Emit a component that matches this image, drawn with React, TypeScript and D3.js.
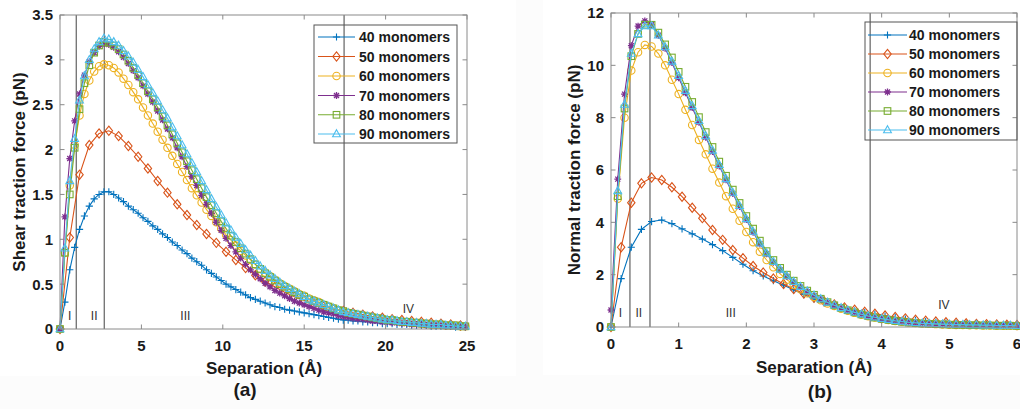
import React from 'react';
import * as d3 from 'd3';

// ---------- series meta ----------
const seriesNames = ['40 monomers', '50 monomers', '60 monomers', '70 monomers', '80 monomers', '90 monomers'];
const seriesColors = ['#0072BD', '#D95319', '#EDB120', '#7E2F8E', '#77AC30', '#4DBEEE'];
const seriesMarkers = ['plus', 'diamond', 'circle', 'star', 'square', 'triangle'];

// ---------- (a) shear traction force ----------
const shearGrid03 = [0, 0.3, 0.6, 0.9, 1.2, 1.5, 1.8, 2.1, 2.4, 2.7, 3, 3.3, 3.6, 3.9, 4.2, 4.5, 4.8, 5.1, 5.4, 5.7, 6, 6.3, 6.6, 6.9, 7.2, 7.5, 7.8, 8.1, 8.4, 8.7, 9, 9.3, 9.6, 9.9, 10.2, 10.5, 10.8, 11.1, 11.4, 11.7, 12, 12.3, 12.6, 12.9, 13.2, 13.5, 13.8, 14.1, 14.4, 14.7, 15, 15.3, 15.6, 15.9, 16.2, 16.5, 16.8, 17.1, 17.4, 17.7, 18, 18.3, 18.6, 18.9, 19.2, 19.5, 19.8, 20.1, 20.4, 20.7, 21, 21.3, 21.6, 21.9, 22.2, 22.5, 22.8, 23.1, 23.4, 23.7, 24, 24.3, 24.6, 24.9];
const shearGrid06 = [0, 0.6, 1.2, 1.8, 2.4, 3, 3.6, 4.2, 4.8, 5.4, 6, 6.6, 7.2, 7.8, 8.4, 9, 9.6, 10.2, 10.8, 11.4, 12, 12.6, 13.2, 13.8, 14.4, 15, 15.6, 16.2, 16.8, 17.4, 18, 18.6, 19.2, 19.8, 20.4, 21, 21.6, 22.2, 22.8, 23.4, 24, 24.6];

const shear40 = [
  0, 0.30, 0.66, 0.91, 1.11, 1.26, 1.37, 1.45, 1.50, 1.53,
  1.53, 1.50, 1.46, 1.42, 1.37, 1.33, 1.29, 1.24, 1.20, 1.15,
  1.11, 1.06, 1.02, 0.97, 0.93, 0.88, 0.84, 0.79, 0.75, 0.71,
  0.66, 0.62, 0.58, 0.54, 0.50, 0.47, 0.44, 0.41, 0.38, 0.35,
  0.33, 0.31, 0.29, 0.27, 0.25, 0.24, 0.22, 0.21, 0.20, 0.19,
  0.18, 0.17, 0.16, 0.15, 0.14, 0.13, 0.12, 0.11, 0.10, 0.10,
  0.09, 0.09, 0.08, 0.08, 0.07, 0.07, 0.06, 0.06, 0.06, 0.05,
  0.05, 0.05, 0.04, 0.04, 0.04, 0.04, 0.03, 0.03, 0.03, 0.03,
  0.03, 0.02, 0.02, 0.02];
const shear50 = [
  0, 1.02, 1.72, 2.05, 2.18, 2.21, 2.15, 2.04, 1.92, 1.79,
  1.65, 1.52, 1.39, 1.27, 1.16, 1.06, 0.96, 0.86, 0.77, 0.68,
  0.60, 0.53, 0.47, 0.41, 0.36, 0.32, 0.28, 0.25, 0.22, 0.20,
  0.18, 0.16, 0.14, 0.125, 0.11, 0.10, 0.09, 0.08, 0.07, 0.06,
  0.05, 0.04];
const shear60 = [
  0, 0.85, 1.60, 2.05, 2.38, 2.62, 2.77, 2.87, 2.93, 2.95,
  2.94, 2.91, 2.86, 2.79, 2.72, 2.64, 2.56, 2.47, 2.38, 2.29,
  2.20, 2.11, 2.02, 1.93, 1.84, 1.75, 1.66, 1.57, 1.49, 1.41,
  1.33, 1.26, 1.19, 1.12, 1.05, 0.99, 0.93, 0.87, 0.82, 0.77,
  0.72, 0.67, 0.63, 0.59, 0.55, 0.51, 0.48, 0.45, 0.42, 0.39,
  0.37, 0.34, 0.32, 0.30, 0.27, 0.25, 0.23, 0.21, 0.19, 0.18,
  0.17, 0.16, 0.15, 0.14, 0.13, 0.12, 0.11, 0.10, 0.10, 0.09,
  0.08, 0.08, 0.07, 0.07, 0.06, 0.06, 0.05, 0.05, 0.05, 0.04,
  0.04, 0.04, 0.03, 0.03];
const shear70 = [
  0, 1.25, 1.90, 2.32, 2.62, 2.83, 2.98, 3.08, 3.15, 3.18,
  3.17, 3.14, 3.09, 3.03, 2.96, 2.88, 2.80, 2.71, 2.62, 2.53,
  2.43, 2.33, 2.23, 2.13, 2.02, 1.92, 1.81, 1.70, 1.60, 1.49,
  1.39, 1.29, 1.19, 1.10, 1.01, 0.93, 0.86, 0.79, 0.72, 0.66,
  0.61, 0.56, 0.51, 0.47, 0.43, 0.40, 0.37, 0.34, 0.31, 0.29,
  0.27, 0.25, 0.23, 0.21, 0.19, 0.18, 0.17, 0.15, 0.14, 0.13,
  0.12, 0.11, 0.11, 0.10, 0.09, 0.09, 0.08, 0.08, 0.07, 0.07,
  0.06, 0.06, 0.05, 0.05, 0.05, 0.04, 0.04, 0.04, 0.04, 0.03,
  0.03, 0.03, 0.03, 0.02];
const shear80 = [
  0, 0.85, 1.50, 2.02, 2.45, 2.74, 2.94, 3.08, 3.16, 3.20,
  3.19, 3.16, 3.12, 3.06, 2.99, 2.91, 2.83, 2.74, 2.65, 2.56,
  2.47, 2.37, 2.27, 2.17, 2.07, 1.97, 1.87, 1.77, 1.67, 1.57,
  1.47, 1.38, 1.29, 1.20, 1.12, 1.04, 0.97, 0.90, 0.84, 0.78,
  0.72, 0.67, 0.62, 0.58, 0.54, 0.50, 0.47, 0.44, 0.41, 0.38,
  0.36, 0.33, 0.31, 0.29, 0.27, 0.25, 0.23, 0.21, 0.20, 0.18,
  0.17, 0.16, 0.15, 0.14, 0.13, 0.12, 0.11, 0.10, 0.10, 0.09,
  0.08, 0.08, 0.07, 0.07, 0.06, 0.06, 0.05, 0.05, 0.05, 0.04,
  0.04, 0.04, 0.03, 0.03];
const shear90 = [
  0, 0.90, 1.65, 2.12, 2.55, 2.82, 3.00, 3.12, 3.20, 3.24,
  3.23, 3.20, 3.16, 3.10, 3.04, 2.97, 2.89, 2.81, 2.72, 2.63,
  2.54, 2.44, 2.35, 2.25, 2.15, 2.05, 1.95, 1.85, 1.75, 1.65,
  1.55, 1.45, 1.36, 1.27, 1.18, 1.10, 1.02, 0.95, 0.88, 0.82,
  0.76, 0.70, 0.65, 0.60, 0.56, 0.52, 0.48, 0.45, 0.42, 0.39,
  0.36, 0.33, 0.31, 0.29, 0.27, 0.25, 0.23, 0.21, 0.19, 0.18,
  0.17, 0.16, 0.15, 0.14, 0.13, 0.12, 0.11, 0.10, 0.10, 0.09,
  0.08, 0.08, 0.07, 0.07, 0.06, 0.06, 0.05, 0.05, 0.05, 0.04,
  0.04, 0.03, 0.03, 0.03];

const shearXTicks = [0, 5, 10, 15, 20, 25];
const shearYTicks = [0, 0.5, 1, 1.5, 2, 2.5, 3, 3.5];
const shearRegionBounds = [1.0, 2.72, 17.45];
const shearRegionLabelX = [0.6, 2.1, 7.7, 21.4];
const shearRegionLabelY = [0.1, 0.1, 0.1, 0.18];

// ---------- (b) normal traction force ----------
const normalGrid015 = [0, 0.15, 0.3, 0.45, 0.6, 0.75, 0.9, 1.05, 1.2, 1.35, 1.5, 1.65, 1.8, 1.95, 2.1, 2.25, 2.4, 2.55, 2.7, 2.85, 3, 3.15, 3.3, 3.45, 3.6, 3.75, 3.9, 4.05, 4.2, 4.35, 4.5, 4.65, 4.8, 4.95, 5.1, 5.25, 5.4, 5.55, 5.7, 5.85, 6];
const normalGrid01 = [0, 0.1, 0.2, 0.3, 0.4, 0.5, 0.6, 0.7, 0.8, 0.9, 1, 1.1, 1.2, 1.3, 1.4, 1.5, 1.6, 1.7, 1.8, 1.9, 2, 2.1, 2.2, 2.3, 2.4, 2.5, 2.6, 2.7, 2.8, 2.9, 3, 3.1, 3.2, 3.3, 3.4, 3.5, 3.6, 3.7, 3.8, 3.9, 4, 4.1, 4.2, 4.3, 4.4, 4.5, 4.6, 4.7, 4.8, 4.9, 5, 5.1, 5.2, 5.3, 5.4, 5.5, 5.6, 5.7, 5.8, 5.9, 6];

const normal40 = [
  0, 1.85, 3.05, 3.73, 4.03, 4.09, 3.95, 3.75, 3.56, 3.36,
  3.15, 2.92, 2.66, 2.40, 2.15, 1.95, 1.77, 1.60, 1.42, 1.24,
  1.07, 0.92, 0.80, 0.70, 0.62, 0.55, 0.48, 0.42, 0.36, 0.30,
  0.25, 0.21, 0.18, 0.15, 0.13, 0.12, 0.11, 0.10, 0.09, 0.08,
  0.08];
const normal50 = [
  0, 3.05, 4.75, 5.49, 5.71, 5.62, 5.34, 4.98, 4.56, 4.16,
  3.71, 3.33, 2.94, 2.63, 2.33, 2.08, 1.85, 1.64, 1.45, 1.28,
  1.12, 0.98, 0.86, 0.75, 0.66, 0.58, 0.51, 0.44, 0.38, 0.33,
  0.28, 0.24, 0.21, 0.18, 0.16, 0.14, 0.12, 0.11, 0.10, 0.09,
  0.08];
const normal60 = [
  0, 4.9, 8.0, 9.8, 10.5, 10.78, 10.72, 10.45, 10.0, 9.45,
  8.9, 8.3, 7.72, 7.15, 6.6, 6.05, 5.52, 5.0, 4.52, 4.06,
  3.63, 3.24, 2.88, 2.56, 2.28, 2.03, 1.81, 1.61, 1.44, 1.29,
  1.15, 1.02, 0.90, 0.80, 0.70, 0.62, 0.54, 0.47, 0.41, 0.36,
  0.31, 0.27, 0.23, 0.20, 0.17, 0.15, 0.13, 0.12, 0.11, 0.10,
  0.09, 0.08, 0.08, 0.07, 0.07, 0.06, 0.06, 0.05, 0.05, 0.05,
  0.04];
const normal70 = [
  0.65, 5.65, 8.9, 10.75, 11.5, 11.7, 11.55, 11.15, 10.65, 10.1,
  9.52, 8.95, 8.38, 7.82, 7.25, 6.7, 6.15, 5.62, 5.1, 4.6,
  4.1, 3.62, 3.18, 2.8, 2.47, 2.18, 1.93, 1.71, 1.52, 1.35,
  1.2, 1.06, 0.93, 0.82, 0.72, 0.63, 0.55, 0.48, 0.42, 0.36,
  0.31, 0.27, 0.24, 0.21, 0.18, 0.16, 0.14, 0.13, 0.12, 0.11,
  0.10, 0.09, 0.09, 0.08, 0.08, 0.07, 0.07, 0.06, 0.06, 0.06,
  0.05];
const normal80 = [
  0, 5.0, 8.35, 10.35, 11.2, 11.55, 11.55, 11.25, 10.8, 10.3,
  9.75, 9.18, 8.6, 8.02, 7.45, 6.88, 6.32, 5.78, 5.25, 4.74,
  4.24, 3.76, 3.3, 2.9, 2.56, 2.26, 2.0, 1.77, 1.57, 1.39,
  1.23, 1.08, 0.95, 0.83, 0.73, 0.64, 0.56, 0.48, 0.42, 0.36,
  0.31, 0.27, 0.23, 0.20, 0.17, 0.15, 0.13, 0.12, 0.11, 0.10,
  0.09, 0.08, 0.08, 0.07, 0.07, 0.06, 0.06, 0.05, 0.05, 0.05,
  0.04];
const normal90 = [
  0, 5.2, 8.5, 10.45, 11.2, 11.5, 11.5, 11.15, 10.7, 10.15,
  9.6, 9.03, 8.45, 7.88, 7.3, 6.75, 6.2, 5.66, 5.14, 4.63,
  4.13, 3.65, 3.2, 2.82, 2.49, 2.2, 1.95, 1.73, 1.54, 1.37,
  1.21, 1.07, 0.94, 0.83, 0.73, 0.64, 0.56, 0.49, 0.42, 0.37,
  0.32, 0.28, 0.24, 0.21, 0.18, 0.16, 0.14, 0.13, 0.12, 0.11,
  0.10, 0.09, 0.09, 0.08, 0.08, 0.07, 0.07, 0.06, 0.06, 0.06,
  0.05];

const normalXTicks = [0, 1, 2, 3, 4, 5, 6];
const normalYTicks = [0, 2, 4, 6, 8, 10, 12];
const normalRegionBounds = [0.28, 0.576, 3.83];
const normalRegionLabelX = [0.14, 0.41, 1.77, 4.92];
const normalRegionLabelY = [0.38, 0.38, 0.38, 0.69];

const regionLabels = ['I', 'II', 'III', 'IV'];

const FONT = "'Liberation Sans', Arial, Helvetica, sans-serif";
const TXT = '#1a1a1a';

type MarkerType = string;

function Marker({ type, x, y, color }: { type: MarkerType; x: number; y: number; color: string }) {
  const common = { fill: 'none', stroke: color, strokeWidth: 1.1 };
  switch (type) {
    case 'plus':
      return <path d={`M${x - 3.6},${y}H${x + 3.6}M${x},${y - 3.6}V${y + 3.6}`} {...common} />;
    case 'diamond':
      return <path d={`M${x},${y - 4.6}L${x + 3.7},${y}L${x},${y + 4.6}L${x - 3.7},${y}Z`} {...common} />;
    case 'circle':
      return <circle cx={x} cy={y} r={3.7} {...common} />;
    case 'star':
      return (
        <path
          d={`M${x - 3.4},${y}H${x + 3.4}M${x},${y - 3.4}V${y + 3.4}M${x - 2.5},${y - 2.5}L${x + 2.5},${y + 2.5}M${x - 2.5},${y + 2.5}L${x + 2.5},${y - 2.5}`}
          {...common}
          strokeWidth={1.3}
        />
      );
    case 'square':
      return <rect x={x - 3.3} y={y - 3.3} width={6.6} height={6.6} {...common} />;
    case 'triangle':
      return <path d={`M${x},${y - 4.3}L${x + 3.9},${y + 2.7}L${x - 3.9},${y + 2.7}Z`} {...common} />;
    default:
      return null;
  }
}

type Series = { xs: number[]; ys: number[] };

type PanelProps = {
  left: number; right: number; top: number; bottom: number;
  xDomain: [number, number]; yDomain: [number, number];
  xTicks: number[]; yTicks: number[];
  series: Series[];
  bounds: number[];
  labelX: number[]; labelY: number[];
  yTitle: string; yTitleX: number; yTitleY: number;
  xTitleX: number; xTitleY: number;
  tagText: string; tagX: number; tagY: number;
  legendBox: [number, number, number, number];
  legendRowY: number[]; legendLine: [number, number]; legendTextX: number;
};

function Panel(p: PanelProps) {
  const x = d3.scaleLinear().domain(p.xDomain).range([p.left, p.right]);
  const y = d3.scaleLinear().domain(p.yDomain).range([p.bottom, p.top]);
  const line = d3.line<[number, number]>().x((d) => x(d[0])).y((d) => y(d[1]));
  const tickLen = 4.5;
  return (
    <g>
      {p.bounds.map((b, i) => (
        <line key={'b' + i} x1={x(b)} x2={x(b)} y1={p.top} y2={p.bottom} stroke="#6e6e6e" strokeWidth={1.3} />
      ))}
      {regionLabels.map((t, i) => (
        <text key={'r' + i} x={x(p.labelX[i])} y={y(p.labelY[i])} fontFamily={FONT} fontSize={12}
          textAnchor="middle" fill="#333">{t}</text>
      ))}
      {p.series.map((s, si) => {
        const n = Math.min(s.xs.length, s.ys.length);
        const pts: [number, number][] = [];
        for (let i = 0; i < n; i++) pts.push([s.xs[i], s.ys[i]]);
        return (
          <g key={'s' + si}>
            <path d={line(pts) || ''} fill="none" stroke={seriesColors[si]} strokeWidth={1.1} />
            {pts.map((d, i) => (
              <Marker key={i} type={seriesMarkers[si]} x={x(d[0])} y={y(d[1])} color={seriesColors[si]} />
            ))}
          </g>
        );
      })}
      <rect x={p.left} y={p.top} width={p.right - p.left} height={p.bottom - p.top} fill="none" stroke="#8a8a8a" strokeWidth={1} />
      {p.xTicks.map((t, i) => (
        <g key={'xt' + i}>
          <line x1={x(t)} x2={x(t)} y1={p.bottom} y2={p.bottom - tickLen} stroke="#8a8a8a" />
          <line x1={x(t)} x2={x(t)} y1={p.top} y2={p.top + tickLen} stroke="#8a8a8a" />
          <text x={x(t)} y={p.bottom + 22} fontFamily={FONT} fontSize={15} fontWeight="bold" textAnchor="middle" fill={TXT}>{String(t)}</text>
        </g>
      ))}
      {p.yTicks.map((t, i) => (
        <g key={'yt' + i}>
          <line x1={p.left} x2={p.left + tickLen} y1={y(t)} y2={y(t)} stroke="#8a8a8a" />
          <line x1={p.right} x2={p.right - tickLen} y1={y(t)} y2={y(t)} stroke="#8a8a8a" />
          <text x={p.left - 7} y={y(t)} dy="0.36em" fontFamily={FONT} fontSize={15} fontWeight="bold" textAnchor="end" fill={TXT}>{String(t)}</text>
        </g>
      ))}
      <text x={p.xTitleX} y={p.xTitleY} fontFamily={FONT} fontSize={17} fontWeight="bold" textAnchor="middle" fill={TXT}>Separation (Å)</text>
      <text transform={`translate(${p.yTitleX},${p.yTitleY}) rotate(-90)`} fontFamily={FONT} fontSize={17} fontWeight="bold" textAnchor="middle" fill={TXT}>{p.yTitle}</text>
      <text x={p.tagX} y={p.tagY} fontFamily={FONT} fontSize={19} fontWeight="bold" textAnchor="middle" fill={TXT}>{p.tagText}</text>
      <rect x={p.legendBox[0]} y={p.legendBox[1]} width={p.legendBox[2]} height={p.legendBox[3]} fill="none" stroke="#555" strokeWidth={1} />
      {seriesNames.map((name, i) => {
        const ly = p.legendRowY[i];
        const mx = (p.legendLine[0] + p.legendLine[1]) / 2;
        return (
          <g key={'l' + i}>
            <line x1={p.legendLine[0]} x2={p.legendLine[1]} y1={ly} y2={ly} stroke={seriesColors[i]} strokeWidth={1.1} />
            <Marker type={seriesMarkers[i]} x={mx} y={ly} color={seriesColors[i]} />
            <text x={p.legendTextX} y={ly} dy="0.36em" fontFamily={FONT} fontSize={14} fontWeight="bold" fill={TXT}>{name}</text>
          </g>
        );
      })}
    </g>
  );
}

export default function App() {
  const shearSeries: Series[] = [
    { xs: shearGrid03, ys: shear40 },
    { xs: shearGrid06, ys: shear50 },
    { xs: shearGrid03, ys: shear60 },
    { xs: shearGrid03, ys: shear70 },
    { xs: shearGrid03, ys: shear80 },
    { xs: shearGrid03, ys: shear90 },
  ];
  const normalSeries: Series[] = [
    { xs: normalGrid015, ys: normal40 },
    { xs: normalGrid015, ys: normal50 },
    { xs: normalGrid01, ys: normal60 },
    { xs: normalGrid01, ys: normal70 },
    { xs: normalGrid01, ys: normal80 },
    { xs: normalGrid01, ys: normal90 },
  ];
  return (
    <svg width={1020} height={409} style={{ position: 'absolute', left: 0, top: 0 }}>
      <rect x={0} y={0} width={1020} height={409} fill="#fcfcfc" />
      <rect x={0} y={0} width={516} height={376} fill="#ffffff" />
      <rect x={543} y={0} width={477} height={375} fill="#ffffff" />
      <Panel
        left={60} right={467} top={15} bottom={329}
        xDomain={[0, 25]} yDomain={[0, 3.5]}
        xTicks={shearXTicks} yTicks={shearYTicks}
        series={shearSeries}
        bounds={shearRegionBounds}
        labelX={shearRegionLabelX} labelY={shearRegionLabelY}
        yTitle="Shear traction force (pN)" yTitleX={25} yTitleY={172}
        xTitleX={264} xTitleY={374}
        tagText="(a)" tagX={245} tagY={396}
        legendBox={[314, 25, 143, 118]}
        legendRowY={[37, 56.5, 76, 95.5, 114.8, 134]} legendLine={[318, 355]} legendTextX={359}
      />
      <Panel
        left={611} right={1017} top={13} bottom={327}
        xDomain={[0, 6]} yDomain={[0, 12]}
        xTicks={normalXTicks} yTicks={normalYTicks}
        series={normalSeries}
        bounds={normalRegionBounds}
        labelX={normalRegionLabelX} labelY={normalRegionLabelY}
        yTitle="Normal traction force (pN)" yTitleX={580} yTitleY={170}
        xTitleX={814} xTitleY={373}
        tagText="(b)" tagX={820} tagY={398}
        legendBox={[865, 22, 152, 118]}
        legendRowY={[35, 54, 73, 92, 111, 130]} legendLine={[868, 907]} legendTextX={909}
      />
    </svg>
  );
}
